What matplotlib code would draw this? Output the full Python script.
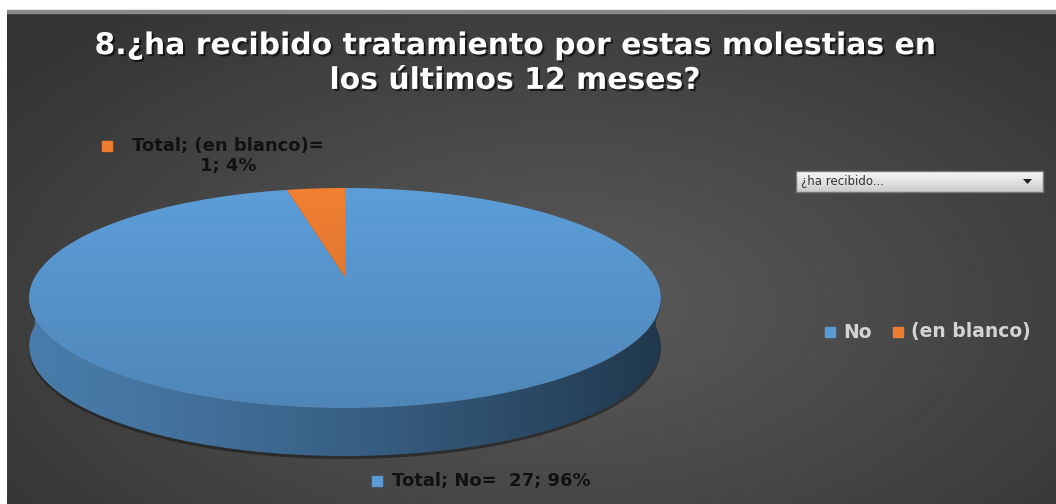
import numpy as np
import matplotlib
matplotlib.use("Agg")
import matplotlib.pyplot as plt
from matplotlib.patches import Polygon, Rectangle
import matplotlib.patheffects as pe

# data
categories = ["No", "(en blanco)"]
counts = [27, 1]
percents = [96, 4]
colors = ["#5b9bd5", "#ed7d31"]
title = "8.¿ha recibido tratamiento por estas molestias en\nlos últimos 12 meses?"
filter_text = "¿ha recibido..."

W, H = 1056, 504
fig = plt.figure(figsize=(W / 100, H / 100), dpi=100)
fig.patch.set_facecolor("white")
ax = fig.add_axes([0, 0, 1, 1])
ax.set_xlim(0, W)
ax.set_ylim(H, 0)
ax.axis("off")

# dark radial background
yy, xx = np.mgrid[0:H, 0:W]
r = np.sqrt(((xx - 560) / 650.0) ** 2 + ((yy - 300) / 350.0) ** 2)
shade = np.clip(0.36 - 0.14 * r, 0.2, 0.36)
bg = np.dstack([shade, shade, shade])
ax.imshow(bg, extent=(7, W, H, 12), zorder=0, aspect="auto")
ax.add_patch(Rectangle((7, 10), W, 2.5, color="#8a8a8a", zorder=1))

# pie geometry (simple perspective of a tilted disc)
cx, cy = 345, 277
a, b, p = 310, 106, 0.191
depth = 48


def proj(phi):
    u, v = np.cos(phi), np.sin(phi)
    return cx + a * u / (1 + p * v), cy - b * v / (1 + p * v)


total = sum(counts)
fracs = [c / total for c in counts]
bounds = np.cumsum([0] + fracs)

# side wall (front half only)
side_grad = np.linspace(0, 1, 200)[None, :]
for i, col in enumerate(colors):
    s = np.deg2rad(90 - 360 * bounds[i])
    e = np.deg2rad(90 - 360 * bounds[i + 1])
    phi = np.linspace(s, e, 400)
    phi_n = np.mod(phi, 2 * np.pi)
    front = phi_n > np.pi
    if not front.any():
        continue
    ph = phi[front]
    x, y = proj(ph)
    xs = np.concatenate([x, x[::-1]])
    ys = np.concatenate([y, (y + depth)[::-1]])
    shadow = Polygon(np.column_stack([xs, ys + 3]), closed=True, fc="#1a1a1a", ec="none", alpha=0.6, zorder=2)
    ax.add_patch(shadow)
    poly = Polygon(np.column_stack([xs, ys]), closed=True, fc="none", ec="none", zorder=3)
    ax.add_patch(poly)
    base = np.array(matplotlib.colors.to_rgb(col))
    light = base * 0.8
    dark = base * 0.36
    g = light[None, None, :] * (1 - side_grad[..., None] ** 1.3) + dark[None, None, :] * side_grad[..., None] ** 1.3
    im = ax.imshow(g, extent=(x.min(), x.max(), y.max() + depth, y.min()), aspect="auto", zorder=3)
    im.set_clip_path(poly)

# top face
for i, col in enumerate(colors):
    s = np.deg2rad(90 - 360 * bounds[i])
    e = np.deg2rad(90 - 360 * bounds[i + 1])
    phi = np.linspace(s, e, 400)
    x, y = proj(phi)
    xs = np.concatenate([[cx], x])
    ys = np.concatenate([[cy], y])
    poly = Polygon(np.column_stack([xs, ys]), closed=True, fc="none", ec="none", zorder=4)
    ax.add_patch(poly)
    base = np.array(matplotlib.colors.to_rgb(col))
    grad = np.linspace(0, 1, 200)[:, None]
    g = (base * 1.03)[None, None, :] * (1 - grad[..., None]) + (base * 0.86)[None, None, :] * grad[..., None]
    g = np.clip(np.repeat(g, 2, axis=1), 0, 1)
    im = ax.imshow(g, extent=(cx - a * 1.05, cx + a * 1.05, cy + b * 1.3, cy - b), aspect="auto", zorder=4)
    im.set_clip_path(poly)

# title
ax.text(515, 63, title, ha="center", va="center", color="white", fontsize=21.5,
        fontweight="bold", family="DejaVu Sans", linespacing=1.25, zorder=6,
        path_effects=[pe.withSimplePatchShadow(offset=(1.5, -1.5), shadow_rgbFace="black", alpha=0.6)])

# data labels
label_pos = [(377, 481), (107, 146)]
label_text = [f"Total; {categories[0]}=  {counts[0]}; {percents[0]}%",
              f"Total; {categories[1]}=\n{counts[1]}; {percents[1]}%"]
for i in range(len(categories)):
    lx, ly = label_pos[i]
    ax.add_patch(Rectangle((lx - 5, ly - 5), 10, 10, color=colors[i], zorder=6))
    if i == 0:
        ax.text(lx + 15, ly, label_text[i], ha="left", va="center", fontsize=13,
                fontweight="bold", color="#111111", zorder=6)
    else:
        ax.text(228, ly - 9, label_text[i], ha="center", va="top", fontsize=13,
                fontweight="bold", color="#111111", linespacing=1.15, zorder=6)

# filter dropdown
box_grad = np.linspace(0.97, 0.80, 50)[:, None]
bx = np.dstack([box_grad, box_grad, box_grad])
ax.imshow(bx, extent=(796, 1043, 192, 171), aspect="auto", zorder=6)
ax.add_patch(Rectangle((796, 171), 247, 21, fc="none", ec="#777777", lw=1, zorder=7))
ax.text(801, 181.5, filter_text, ha="left", va="center", fontsize=8.5, color="#333333",
        zorder=7)
ax.add_patch(Polygon([(1023, 179), (1032, 179), (1027.5, 184)], closed=True, fc="#222222", zorder=7))

# legend
leg_x = [830, 898]
for i in range(len(categories)):
    ax.add_patch(Rectangle((leg_x[i] - 5, 327), 10, 10, color=colors[i], zorder=6))
    ax.text(leg_x[i] + 13, 332, categories[i], ha="left", va="center", fontsize=13.5,
            fontweight="bold", color="#d4d4d4", zorder=6)

fig.savefig("out.png", dpi=100, facecolor="white")
